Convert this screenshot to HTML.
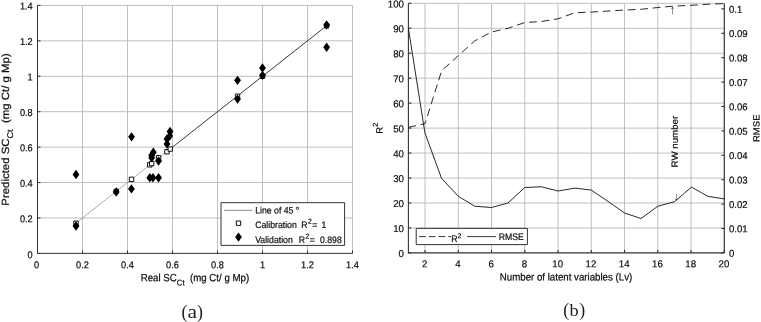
<!DOCTYPE html>
<html lang="en"><head><meta charset="utf-8"><title>Figure</title>
<style>html,body{margin:0;padding:0;background:#fff;}body{width:761px;height:322px;position:relative;overflow:hidden;}</style>
</head><body>
<svg width="761" height="322" viewBox="0 0 761 322" style="position:absolute;left:0;top:0;font-family:'Liberation Sans',sans-serif;stroke-linejoin:round">
<style>text{fill:#0a0a0a;stroke:#111;stroke-width:0.2px;paint-order:stroke}</style>
<rect x="0" y="0" width="761" height="322" fill="#fff"/>
<g stroke="#b4b4b4" stroke-width="0.85" fill="none">
<line x1="82.50" y1="253.4" x2="82.50" y2="5.4"/>
<line x1="37.5" y1="217.97" x2="352.5" y2="217.97"/>
<line x1="127.50" y1="253.4" x2="127.50" y2="5.4"/>
<line x1="37.5" y1="182.54" x2="352.5" y2="182.54"/>
<line x1="172.50" y1="253.4" x2="172.50" y2="5.4"/>
<line x1="37.5" y1="147.11" x2="352.5" y2="147.11"/>
<line x1="217.50" y1="253.4" x2="217.50" y2="5.4"/>
<line x1="37.5" y1="111.69" x2="352.5" y2="111.69"/>
<line x1="262.50" y1="253.4" x2="262.50" y2="5.4"/>
<line x1="37.5" y1="76.26" x2="352.5" y2="76.26"/>
<line x1="307.50" y1="253.4" x2="307.50" y2="5.4"/>
<line x1="37.5" y1="40.83" x2="352.5" y2="40.83"/>
<line x1="352.50" y1="253.4" x2="352.50" y2="5.4"/>
<line x1="37.5" y1="5.40" x2="352.5" y2="5.40"/>
</g>
<g stroke="#333333" stroke-width="1" fill="none">
<polyline points="37.5,5.4 37.5,253.4 352.5,253.4"/>
<line x1="37.50" y1="253.4" x2="37.50" y2="250.4"/>
<line x1="37.5" y1="253.40" x2="40.5" y2="253.40"/>
<line x1="82.50" y1="253.4" x2="82.50" y2="250.4"/>
<line x1="37.5" y1="217.97" x2="40.5" y2="217.97"/>
<line x1="127.50" y1="253.4" x2="127.50" y2="250.4"/>
<line x1="37.5" y1="182.54" x2="40.5" y2="182.54"/>
<line x1="172.50" y1="253.4" x2="172.50" y2="250.4"/>
<line x1="37.5" y1="147.11" x2="40.5" y2="147.11"/>
<line x1="217.50" y1="253.4" x2="217.50" y2="250.4"/>
<line x1="37.5" y1="111.69" x2="40.5" y2="111.69"/>
<line x1="262.50" y1="253.4" x2="262.50" y2="250.4"/>
<line x1="37.5" y1="76.26" x2="40.5" y2="76.26"/>
<line x1="307.50" y1="253.4" x2="307.50" y2="250.4"/>
<line x1="37.5" y1="40.83" x2="40.5" y2="40.83"/>
<line x1="352.50" y1="253.4" x2="352.50" y2="250.4"/>
<line x1="37.5" y1="5.40" x2="40.5" y2="5.40"/>
</g>
<text transform="translate(36.50,268.30) rotate(0.03) scale(1,1.08)" font-size="9.2" text-anchor="middle" >0</text>
<text transform="translate(32.70,258.20) rotate(0.03) scale(1,1.08)" font-size="9.2" text-anchor="end" >0</text>
<text transform="translate(82.50,268.30) rotate(0.03) scale(1,1.08)" font-size="9.2" text-anchor="middle" >0.2</text>
<text transform="translate(32.70,222.17) rotate(0.03) scale(1,1.08)" font-size="9.2" text-anchor="end" >0.2</text>
<text transform="translate(127.50,268.30) rotate(0.03) scale(1,1.08)" font-size="9.2" text-anchor="middle" >0.4</text>
<text transform="translate(32.70,186.74) rotate(0.03) scale(1,1.08)" font-size="9.2" text-anchor="end" >0.4</text>
<text transform="translate(172.50,268.30) rotate(0.03) scale(1,1.08)" font-size="9.2" text-anchor="middle" >0.6</text>
<text transform="translate(32.70,151.31) rotate(0.03) scale(1,1.08)" font-size="9.2" text-anchor="end" >0.6</text>
<text transform="translate(217.50,268.30) rotate(0.03) scale(1,1.08)" font-size="9.2" text-anchor="middle" >0.8</text>
<text transform="translate(32.70,115.89) rotate(0.03) scale(1,1.08)" font-size="9.2" text-anchor="end" >0.8</text>
<text transform="translate(262.50,268.30) rotate(0.03) scale(1,1.08)" font-size="9.2" text-anchor="middle" >1</text>
<text transform="translate(32.70,80.46) rotate(0.03) scale(1,1.08)" font-size="9.2" text-anchor="end" >1</text>
<text transform="translate(307.50,268.30) rotate(0.03) scale(1,1.08)" font-size="9.2" text-anchor="middle" >1.2</text>
<text transform="translate(32.70,45.03) rotate(0.03) scale(1,1.08)" font-size="9.2" text-anchor="end" >1.2</text>
<text transform="translate(352.50,268.30) rotate(0.03) scale(1,1.08)" font-size="9.2" text-anchor="middle" >1.4</text>
<text transform="translate(32.70,9.60) rotate(0.03) scale(1,1.08)" font-size="9.2" text-anchor="end" >1.4</text>
<text transform="translate(140.70,281.20) rotate(0.03) scale(1,1.08)" font-size="9.7" text-anchor="start" xml:space="preserve">Real SC<tspan font-size="7.8" dy="3.9">Ct</tspan><tspan dy="-3.9">  (mg Ct/ g Mp)</tspan></text>
<text transform="translate(8.90,205.70) rotate(-89.97) scale(1.088,1)" font-size="10.5" text-anchor="start" xml:space="preserve">Predicted SC<tspan font-size="8.3" dy="4.0">Ct</tspan><tspan dy="-4.0">  (mg Ct/ g Mp)</tspan></text>
<line x1="75.75" y1="223.29" x2="170.25" y2="148.89" stroke="#8a8a8a" stroke-width="0.7"/>
<line x1="170.25" y1="148.89" x2="326.62" y2="25.77" stroke="#222" stroke-width="0.9"/>
<rect x="73.77" y="221.00" width="4.4" height="4.4" fill="#fff" stroke="#000" stroke-width="0.95"/>
<rect x="114.05" y="189.20" width="4.4" height="4.4" fill="#fff" stroke="#000" stroke-width="0.95"/>
<rect x="129.35" y="177.15" width="4.4" height="4.4" fill="#fff" stroke="#000" stroke-width="0.95"/>
<rect x="147.58" y="162.63" width="4.4" height="4.4" fill="#fff" stroke="#000" stroke-width="0.95"/>
<rect x="149.49" y="161.39" width="4.4" height="4.4" fill="#fff" stroke="#000" stroke-width="0.95"/>
<rect x="156.35" y="155.54" width="4.4" height="4.4" fill="#fff" stroke="#000" stroke-width="0.95"/>
<rect x="164.79" y="149.52" width="4.4" height="4.4" fill="#fff" stroke="#000" stroke-width="0.95"/>
<rect x="168.05" y="146.86" width="4.4" height="4.4" fill="#fff" stroke="#000" stroke-width="0.95"/>
<rect x="235.33" y="94.07" width="4.4" height="4.4" fill="#fff" stroke="#000" stroke-width="0.95"/>
<rect x="260.30" y="74.06" width="4.4" height="4.4" fill="#fff" stroke="#000" stroke-width="0.95"/>
<rect x="324.43" y="23.57" width="4.4" height="4.4" fill="#fff" stroke="#000" stroke-width="0.95"/>
<path d="M75.97 169.80L79.38 174.50L75.97 179.20L72.57 174.50Z" fill="#000"/>
<path d="M75.97 221.24L79.38 225.94L75.97 230.64L72.57 225.94Z" fill="#000"/>
<path d="M116.25 187.23L119.65 191.93L116.25 196.63L112.85 191.93Z" fill="#000"/>
<path d="M131.44 184.22L134.84 188.92L131.44 193.62L128.04 188.92Z" fill="#000"/>
<path d="M131.55 132.14L134.95 136.84L131.55 141.54L128.15 136.84Z" fill="#000"/>
<path d="M149.78 173.06L153.18 177.76L149.78 182.46L146.38 177.76Z" fill="#000"/>
<path d="M152.93 173.06L156.33 177.76L152.93 182.46L149.53 177.76Z" fill="#000"/>
<path d="M158.55 173.06L161.95 177.76L158.55 182.46L155.15 177.76Z" fill="#000"/>
<path d="M151.69 150.56L155.09 155.26L151.69 159.96L148.29 155.26Z" fill="#000"/>
<path d="M153.31 147.55L156.71 152.25L153.31 156.95L149.91 152.25Z" fill="#000"/>
<path d="M151.69 153.04L155.09 157.74L151.69 162.44L148.29 157.74Z" fill="#000"/>
<path d="M158.55 156.23L161.95 160.93L158.55 165.63L155.15 160.93Z" fill="#000"/>
<path d="M166.99 139.23L170.39 143.93L166.99 148.63L163.59 143.93Z" fill="#000"/>
<path d="M166.99 134.27L170.39 138.97L166.99 143.67L163.59 138.97Z" fill="#000"/>
<path d="M169.69 131.25L173.09 135.95L169.69 140.65L166.29 135.95Z" fill="#000"/>
<path d="M170.03 126.83L173.43 131.53L170.03 136.23L166.62 131.53Z" fill="#000"/>
<path d="M237.53 94.41L240.93 99.11L237.53 103.81L234.13 99.11Z" fill="#000"/>
<path d="M237.53 75.63L240.93 80.33L237.53 85.03L234.13 80.33Z" fill="#000"/>
<path d="M262.50 70.67L265.90 75.37L262.50 80.07L259.10 75.37Z" fill="#000"/>
<path d="M262.50 63.23L265.90 67.93L262.50 72.63L259.10 67.93Z" fill="#000"/>
<path d="M326.62 20.19L330.02 24.89L326.62 29.59L323.23 24.89Z" fill="#000"/>
<path d="M326.62 42.51L330.02 47.21L326.62 51.91L323.23 47.21Z" fill="#000"/>
<rect x="221" y="202.7" width="123.6" height="42.7" fill="#fff" stroke="#333333" stroke-width="1"/>
<line x1="224" y1="210.3" x2="252.3" y2="210.3" stroke="#6a6a6a" stroke-width="0.8"/>
<rect x="236.30" y="221.00" width="4.4" height="4.4" fill="#fff" stroke="#000" stroke-width="0.95"/>
<path d="M238.50 232.40L241.90 237.10L238.50 241.80L235.10 237.10Z" fill="#000"/>
<text transform="translate(255.20,213.40) rotate(0.03) scale(1,1.08)" font-size="8.7" text-anchor="start" xml:space="preserve">Line of 45 °</text>
<text transform="translate(255.20,228.00) rotate(0.03) scale(1,1.08)" font-size="8.7" text-anchor="start" >Calibration</text>
<text transform="translate(301.20,228.00) rotate(0.03) scale(1,1.08)" font-size="8.7" text-anchor="start" >R<tspan dx="0.4" dy="-3.9" font-size="6.8">2</tspan></text>
<text transform="translate(312.20,228.00) rotate(0.03) scale(1,1.08)" font-size="8.7" text-anchor="start" >=</text>
<text transform="translate(321.60,228.00) rotate(0.03) scale(1,1.08)" font-size="8.7" text-anchor="start" >1</text>
<text transform="translate(255.20,242.90) rotate(0.03) scale(1,1.08)" font-size="8.7" text-anchor="start" >Validation</text>
<text transform="translate(298.70,242.90) rotate(0.03) scale(1,1.08)" font-size="8.7" text-anchor="start" >R<tspan dx="0.4" dy="-3.9" font-size="6.8">2</tspan></text>
<text transform="translate(309.80,242.90) rotate(0.03) scale(1,1.08)" font-size="8.7" text-anchor="start" >=</text>
<text transform="translate(320.00,242.90) rotate(0.03) scale(1,1.08)" font-size="8.7" text-anchor="start" >0.898</text>
<text transform="translate(181.5,317.6) scale(1.0,1)" font-family="'Liberation Serif',serif" font-size="17.8" style="stroke:none;fill:#1c1c1c">(</text>
<text transform="translate(187.4,317.6) scale(1.2,1)" font-family="'Liberation Serif',serif" font-size="17.8" style="stroke:none;fill:#1c1c1c">a</text>
<text transform="translate(196.9,317.6) scale(1.0,1)" font-family="'Liberation Serif',serif" font-size="17.8" style="stroke:none;fill:#1c1c1c">)</text>
<g stroke="#b4b4b4" stroke-width="0.85" fill="none">
<line x1="425.03" y1="252.9" x2="425.03" y2="3.3"/>
<line x1="458.28" y1="252.9" x2="458.28" y2="3.3"/>
<line x1="491.53" y1="252.9" x2="491.53" y2="3.3"/>
<line x1="524.78" y1="252.9" x2="524.78" y2="3.3"/>
<line x1="558.04" y1="252.9" x2="558.04" y2="3.3"/>
<line x1="591.29" y1="252.9" x2="591.29" y2="3.3"/>
<line x1="624.54" y1="252.9" x2="624.54" y2="3.3"/>
<line x1="657.79" y1="252.9" x2="657.79" y2="3.3"/>
<line x1="691.05" y1="252.9" x2="691.05" y2="3.3"/>
<line x1="724.30" y1="252.9" x2="724.30" y2="3.3"/>
<line x1="408.4" y1="227.94" x2="724.3" y2="227.94"/>
<line x1="408.4" y1="202.98" x2="724.3" y2="202.98"/>
<line x1="408.4" y1="178.02" x2="724.3" y2="178.02"/>
<line x1="408.4" y1="153.06" x2="724.3" y2="153.06"/>
<line x1="408.4" y1="128.10" x2="724.3" y2="128.10"/>
<line x1="408.4" y1="103.14" x2="724.3" y2="103.14"/>
<line x1="408.4" y1="78.18" x2="724.3" y2="78.18"/>
<line x1="408.4" y1="53.22" x2="724.3" y2="53.22"/>
<line x1="408.4" y1="28.26" x2="724.3" y2="28.26"/>
<line x1="408.4" y1="3.30" x2="724.3" y2="3.30"/>
</g>
<g stroke="#333333" stroke-width="1.1" fill="none">
<polyline points="408.4,3.3 408.4,252.9 724.3,252.9"/>
<line x1="724.3" y1="252.9" x2="724.3" y2="3.3"/>
<line x1="425.03" y1="252.9" x2="425.03" y2="249.9"/>
<line x1="458.28" y1="252.9" x2="458.28" y2="249.9"/>
<line x1="491.53" y1="252.9" x2="491.53" y2="249.9"/>
<line x1="524.78" y1="252.9" x2="524.78" y2="249.9"/>
<line x1="558.04" y1="252.9" x2="558.04" y2="249.9"/>
<line x1="591.29" y1="252.9" x2="591.29" y2="249.9"/>
<line x1="624.54" y1="252.9" x2="624.54" y2="249.9"/>
<line x1="657.79" y1="252.9" x2="657.79" y2="249.9"/>
<line x1="691.05" y1="252.9" x2="691.05" y2="249.9"/>
<line x1="724.30" y1="252.9" x2="724.30" y2="249.9"/>
<line x1="408.4" y1="252.90" x2="411.4" y2="252.90"/>
<line x1="408.4" y1="227.94" x2="411.4" y2="227.94"/>
<line x1="408.4" y1="202.98" x2="411.4" y2="202.98"/>
<line x1="408.4" y1="178.02" x2="411.4" y2="178.02"/>
<line x1="408.4" y1="153.06" x2="411.4" y2="153.06"/>
<line x1="408.4" y1="128.10" x2="411.4" y2="128.10"/>
<line x1="408.4" y1="103.14" x2="411.4" y2="103.14"/>
<line x1="408.4" y1="78.18" x2="411.4" y2="78.18"/>
<line x1="408.4" y1="53.22" x2="411.4" y2="53.22"/>
<line x1="408.4" y1="28.26" x2="411.4" y2="28.26"/>
<line x1="408.4" y1="3.30" x2="411.4" y2="3.30"/>
<line x1="724.3" y1="252.90" x2="721.3" y2="252.90"/>
<line x1="724.3" y1="228.50" x2="721.3" y2="228.50"/>
<line x1="724.3" y1="204.10" x2="721.3" y2="204.10"/>
<line x1="724.3" y1="179.70" x2="721.3" y2="179.70"/>
<line x1="724.3" y1="155.30" x2="721.3" y2="155.30"/>
<line x1="724.3" y1="130.90" x2="721.3" y2="130.90"/>
<line x1="724.3" y1="106.50" x2="721.3" y2="106.50"/>
<line x1="724.3" y1="82.10" x2="721.3" y2="82.10"/>
<line x1="724.3" y1="57.70" x2="721.3" y2="57.70"/>
<line x1="724.3" y1="33.30" x2="721.3" y2="33.30"/>
<line x1="724.3" y1="8.90" x2="721.3" y2="8.90"/>
</g>
<text transform="translate(424.73,267.20) rotate(0.03) scale(1,1.03)" font-size="9.7" text-anchor="middle" >2</text>
<text transform="translate(457.98,267.20) rotate(0.03) scale(1,1.03)" font-size="9.7" text-anchor="middle" >4</text>
<text transform="translate(491.23,267.20) rotate(0.03) scale(1,1.03)" font-size="9.7" text-anchor="middle" >6</text>
<text transform="translate(524.48,267.20) rotate(0.03) scale(1,1.03)" font-size="9.7" text-anchor="middle" >8</text>
<text transform="translate(557.74,267.20) rotate(0.03) scale(1,1.03)" font-size="9.7" text-anchor="middle" >10</text>
<text transform="translate(590.99,267.20) rotate(0.03) scale(1,1.03)" font-size="9.7" text-anchor="middle" >12</text>
<text transform="translate(624.24,267.20) rotate(0.03) scale(1,1.03)" font-size="9.7" text-anchor="middle" >14</text>
<text transform="translate(657.49,267.20) rotate(0.03) scale(1,1.03)" font-size="9.7" text-anchor="middle" >16</text>
<text transform="translate(690.75,267.20) rotate(0.03) scale(1,1.03)" font-size="9.7" text-anchor="middle" >18</text>
<text transform="translate(724.00,267.20) rotate(0.03) scale(1,1.03)" font-size="9.7" text-anchor="middle" >20</text>
<text transform="translate(404.00,257.00) rotate(0.03) scale(1,1.03)" font-size="9.7" text-anchor="end" >0</text>
<text transform="translate(404.00,232.04) rotate(0.03) scale(1,1.03)" font-size="9.7" text-anchor="end" >10</text>
<text transform="translate(404.00,207.08) rotate(0.03) scale(1,1.03)" font-size="9.7" text-anchor="end" >20</text>
<text transform="translate(404.00,182.12) rotate(0.03) scale(1,1.03)" font-size="9.7" text-anchor="end" >30</text>
<text transform="translate(404.00,157.16) rotate(0.03) scale(1,1.03)" font-size="9.7" text-anchor="end" >40</text>
<text transform="translate(404.00,132.20) rotate(0.03) scale(1,1.03)" font-size="9.7" text-anchor="end" >50</text>
<text transform="translate(404.00,107.24) rotate(0.03) scale(1,1.03)" font-size="9.7" text-anchor="end" >60</text>
<text transform="translate(404.00,82.28) rotate(0.03) scale(1,1.03)" font-size="9.7" text-anchor="end" >70</text>
<text transform="translate(404.00,57.32) rotate(0.03) scale(1,1.03)" font-size="9.7" text-anchor="end" >80</text>
<text transform="translate(404.00,32.36) rotate(0.03) scale(1,1.03)" font-size="9.7" text-anchor="end" >90</text>
<text transform="translate(404.00,7.40) rotate(0.03) scale(1,1.03)" font-size="9.7" text-anchor="end" >100</text>
<text transform="translate(728.90,256.70) rotate(0.03) scale(1,1.03)" font-size="9.6" text-anchor="start" >0</text>
<text transform="translate(728.90,232.30) rotate(0.03) scale(1,1.03)" font-size="9.6" text-anchor="start" >0.01</text>
<text transform="translate(728.90,207.90) rotate(0.03) scale(1,1.03)" font-size="9.6" text-anchor="start" >0.02</text>
<text transform="translate(728.90,183.50) rotate(0.03) scale(1,1.03)" font-size="9.6" text-anchor="start" >0.03</text>
<text transform="translate(728.90,159.10) rotate(0.03) scale(1,1.03)" font-size="9.6" text-anchor="start" >0.04</text>
<text transform="translate(728.90,134.70) rotate(0.03) scale(1,1.03)" font-size="9.6" text-anchor="start" >0.05</text>
<text transform="translate(728.90,110.30) rotate(0.03) scale(1,1.03)" font-size="9.6" text-anchor="start" >0.06</text>
<text transform="translate(728.90,85.90) rotate(0.03) scale(1,1.03)" font-size="9.6" text-anchor="start" >0.07</text>
<text transform="translate(728.90,61.50) rotate(0.03) scale(1,1.03)" font-size="9.6" text-anchor="start" >0.08</text>
<text transform="translate(728.90,37.10) rotate(0.03) scale(1,1.03)" font-size="9.6" text-anchor="start" >0.09</text>
<text transform="translate(728.90,12.70) rotate(0.03) scale(1,1.03)" font-size="9.6" text-anchor="start" >0.1</text>
<text transform="translate(566.00,280.50) rotate(0.03) scale(1,1.08)" font-size="9.7" text-anchor="middle" >Number of latent variables (Lv)</text>
<text transform="translate(382.40,133.70) rotate(-89.97) scale(1.05,1)" font-size="9.0" text-anchor="start" >R<tspan font-size="7" dy="-4.6">2</tspan></text>
<text transform="translate(759.60,128.20) rotate(-89.97) scale(1.07,1)" font-size="9.0" text-anchor="middle" >RMSE</text>
<text transform="translate(677.80,141.60) rotate(-89.97) scale(1.08,1)" font-size="9.0" text-anchor="middle" >RW number</text>
<polyline points="408.40,127.35 425.03,123.61 441.65,70.69 458.28,55.72 474.91,40.74 491.53,32.00 508.16,28.26 524.78,22.52 541.41,21.52 558.04,18.78 574.66,12.78 591.29,12.04 607.92,11.04 624.54,10.04 641.17,9.29 657.79,7.54 674.42,6.05 691.05,5.30 707.67,4.30 724.30,3.55" fill="none" stroke="#1e1e1e" stroke-width="0.95" stroke-dasharray="7.8 4.7"/>
<polyline points="408.40,28.30 424.90,132.80 441.50,178.25 458.25,196.25 474.75,206.25 491.50,207.50 508.00,203.00 524.75,187.50 541.25,186.75 558.00,191.00 575.00,188.10 591.30,190.10 608.00,201.40 624.50,213.00 641.00,218.50 657.90,206.20 674.50,201.70 691.50,187.10 708.00,196.40 724.30,198.90" fill="none" stroke="#1e1e1e" stroke-width="0.95"/>
<text x="672.3" y="14" font-size="12.5" text-anchor="middle" style="fill:#333;stroke:none">↑</text>
<text x="676.4" y="200.3" font-size="11" text-anchor="middle" style="fill:#333;stroke:none">↓</text>
<rect x="416.2" y="228.4" width="111.2" height="16.2" fill="#fff" stroke="#333333" stroke-width="1"/>
<line x1="419.1" y1="236.6" x2="451" y2="236.6" stroke="#222" stroke-width="0.9" stroke-dasharray="6.8 2.9"/>
<line x1="467.1" y1="236.6" x2="496" y2="236.6" stroke="#222" stroke-width="0.9"/>
<text transform="translate(451.20,241.90) rotate(0.03) scale(1,1.08)" font-size="8.7" text-anchor="start" >R<tspan font-size="6.8" dy="-3.4">2</tspan></text>
<text transform="translate(498.80,240.00) rotate(0.03) scale(1,1.08)" font-size="8.7" text-anchor="start" >RMSE</text>
<text transform="translate(563.2,315.6) scale(1.0,1)" font-family="'Liberation Serif',serif" font-size="17.8" style="stroke:none;fill:#1c1c1c">(</text>
<text transform="translate(569.6,315.6) scale(1.08,1)" font-family="'Liberation Serif',serif" font-size="17" style="stroke:none;fill:#1c1c1c">b</text>
<text transform="translate(579.3,315.6) scale(1.0,1)" font-family="'Liberation Serif',serif" font-size="17.8" style="stroke:none;fill:#1c1c1c">)</text>
</svg>
</body></html>
